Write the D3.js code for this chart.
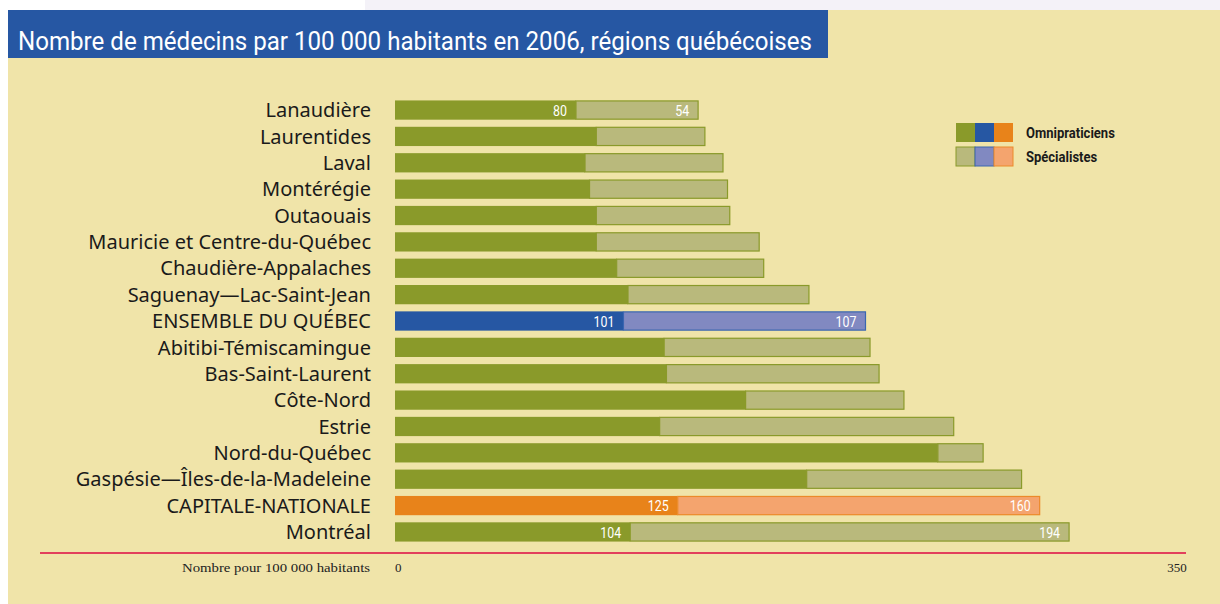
<!DOCTYPE html>
<html>
<head>
<meta charset="utf-8">
<script src="https://cdn.jsdelivr.net/npm/d3@7"></script>
<style>
  body { margin: 0; background: #ffffff; }
  svg { display: block; }
</style>
</head>
<body>
<div id="container"></div>
<script>
// data
var regions = ["Lanaudière", "Laurentides", "Laval", "Montérégie", "Outaouais",
  "Mauricie et Centre-du-Québec", "Chaudière-Appalaches", "Saguenay—Lac-Saint-Jean",
  "ENSEMBLE DU QUÉBEC", "Abitibi-Témiscamingue", "Bas-Saint-Laurent", "Côte-Nord",
  "Estrie", "Nord-du-Québec", "Gaspésie—Îles-de-la-Madeleine", "CAPITALE-NATIONALE", "Montréal"];
var omni = [80, 89, 84, 86, 89, 89, 98, 103, 101, 119, 120, 155, 117, 240, 182, 125, 104];
var spec = [54, 48, 61, 61, 59, 72, 65, 80, 107, 91, 94, 70, 130, 20, 95, 160, 194];
var showValues = ["Lanaudière", "ENSEMBLE DU QUÉBEC", "CAPITALE-NATIONALE", "Montréal"];
var xTicks = [0, 350];

var W = 1220, H = 604;
var colors = {
  normal: ["#8a9a2a", "#b9b97c", "#8a9a2a"],
  ENSEMBLE: ["#2657a3", "#8189c1", "#3a66b0"],
  CAPITALE: ["#e8831a", "#f4a46e", "#ec8a2a"]
};
function scheme(r) {
  if (r === "ENSEMBLE DU QUÉBEC") return colors.ENSEMBLE;
  if (r === "CAPITALE-NATIONALE") return colors.CAPITALE;
  return colors.normal;
}
var narrow = "Roboto, 'Liberation Sans', sans-serif";

var svg = d3.select("#container").append("svg")
  .attr("width", W).attr("height", H);

// page background
svg.append("rect").attr("x", 0).attr("y", 0).attr("width", W).attr("height", H).attr("fill", "#ffffff");
svg.append("rect").attr("x", 365).attr("y", 0).attr("width", W - 365).attr("height", 10).attr("fill", "#f4f2f8");
svg.append("rect").attr("x", 8).attr("y", 10).attr("width", W - 8).attr("height", H - 10).attr("fill", "#f0e4a9");

// title box
svg.append("rect").attr("x", 8).attr("y", 10).attr("width", 820).attr("height", 48).attr("fill", "#2657a3");
svg.append("text").attr("x", 18).attr("y", 50)
  .attr("fill", "#ffffff")
  .attr("textLength", 794).attr("lengthAdjust", "spacingAndGlyphs")
  .style("font-family", narrow)
  .style("font-size", "26px")
  .text("Nombre de médecins par 100 000 habitants en 2006, régions québécoises");

var x = d3.scaleLinear().domain([0, 350]).range([395, 1186.7]);
var y = d3.scaleBand().domain(regions).range([97, 545]).paddingInner(0.27).paddingOuter(0.13);

var rows = svg.selectAll("g.row").data(regions).enter().append("g").attr("class", "row");

rows.append("text")
  .attr("x", 371)
  .attr("y", function (d) { return y(d) + y.bandwidth() / 2; })
  .attr("dy", "0.36em")
  .attr("text-anchor", "end")
  .attr("fill", "#1a1a1a")
  .style("font-family", "'Noto Sans', sans-serif")
  .style("font-size", "20px")
  .text(function (d) { return d; });

// omnipraticiens
rows.append("rect")
  .attr("x", x(0))
  .attr("y", function (d) { return y(d); })
  .attr("width", function (d, i) { return x(omni[i]) - x(0); })
  .attr("height", y.bandwidth())
  .attr("fill", function (d) { return scheme(d)[0]; });

// specialistes
rows.append("rect")
  .attr("x", function (d, i) { return x(omni[i]); })
  .attr("y", function (d) { return y(d) + 0.5; })
  .attr("width", function (d, i) { return x(omni[i] + spec[i]) - x(omni[i]); })
  .attr("height", y.bandwidth() - 1)
  .attr("fill", function (d) { return scheme(d)[1]; })
  .attr("stroke", function (d) { return scheme(d)[2]; })
  .attr("stroke-width", 1.2);

// condensed white value labels
function valLabel(g, px, py, v) {
  g.append("text")
    .attr("transform", "translate(" + px + "," + py + ") scale(0.8,1)")
    .attr("dy", "0.36em")
    .attr("text-anchor", "end").attr("fill", "#ffffff")
    .style("font-family", narrow).style("font-size", "15.5px").text(v);
}
rows.filter(function (d) { return showValues.indexOf(d) >= 0; }).each(function (d) {
  var i = regions.indexOf(d);
  var g = d3.select(this);
  var cy = y(d) + y.bandwidth() / 2;
  valLabel(g, x(omni[i]) - 9, cy, omni[i]);
  valLabel(g, x(omni[i] + spec[i]) - 9, cy, spec[i]);
});

// axis line + labels
svg.append("line").attr("x1", 40).attr("x2", 1186).attr("y1", 553).attr("y2", 553)
  .attr("stroke", "#e2405c").attr("stroke-width", 2);
svg.selectAll("text.tick").data(xTicks).enter().append("text")
  .attr("class", "tick")
  .attr("x", function (d) { return x(d); })
  .attr("y", 572)
  .attr("text-anchor", function (d) { return d === 0 ? "start" : "end"; })
  .attr("fill", "#222")
  .style("font-family", "'Liberation Serif', serif")
  .style("font-size", "13px")
  .text(function (d) { return d; });
svg.append("text").attr("x", 370).attr("y", 572).attr("text-anchor", "end")
  .attr("fill", "#222")
  .attr("textLength", 188).attr("lengthAdjust", "spacingAndGlyphs")
  .style("font-family", "'Liberation Serif', serif")
  .style("font-size", "13.5px")
  .text("Nombre pour 100 000 habitants");

// legend
var legRows = [
  { label: "Omnipraticiens", cols: [colors.normal[0], colors.ENSEMBLE[0], colors.CAPITALE[0]], stroke: null },
  { label: "Spécialistes", cols: [colors.normal[1], colors.ENSEMBLE[1], colors.CAPITALE[1]], stroke: [colors.normal[2], colors.ENSEMBLE[2], colors.CAPITALE[2]] }
];
legRows.forEach(function (r, j) {
  var ly = 123 + j * 24;
  r.cols.forEach(function (c, k) {
    svg.append("rect").attr("x", 956 + k * 19).attr("y", ly).attr("width", 19).attr("height", 19)
      .attr("fill", c)
      .attr("stroke", r.stroke ? r.stroke[k] : "none").attr("stroke-width", 1);
  });
  svg.append("text")
    .attr("transform", "translate(1026," + (ly + 10) + ") scale(0.93,1)")
    .attr("dy", "0.36em")
    .attr("fill", "#1a1a1a")
    .style("font-family", narrow).style("font-size", "14px").style("font-weight", "bold")
    .text(r.label);
});
</script>
</body>
</html>
